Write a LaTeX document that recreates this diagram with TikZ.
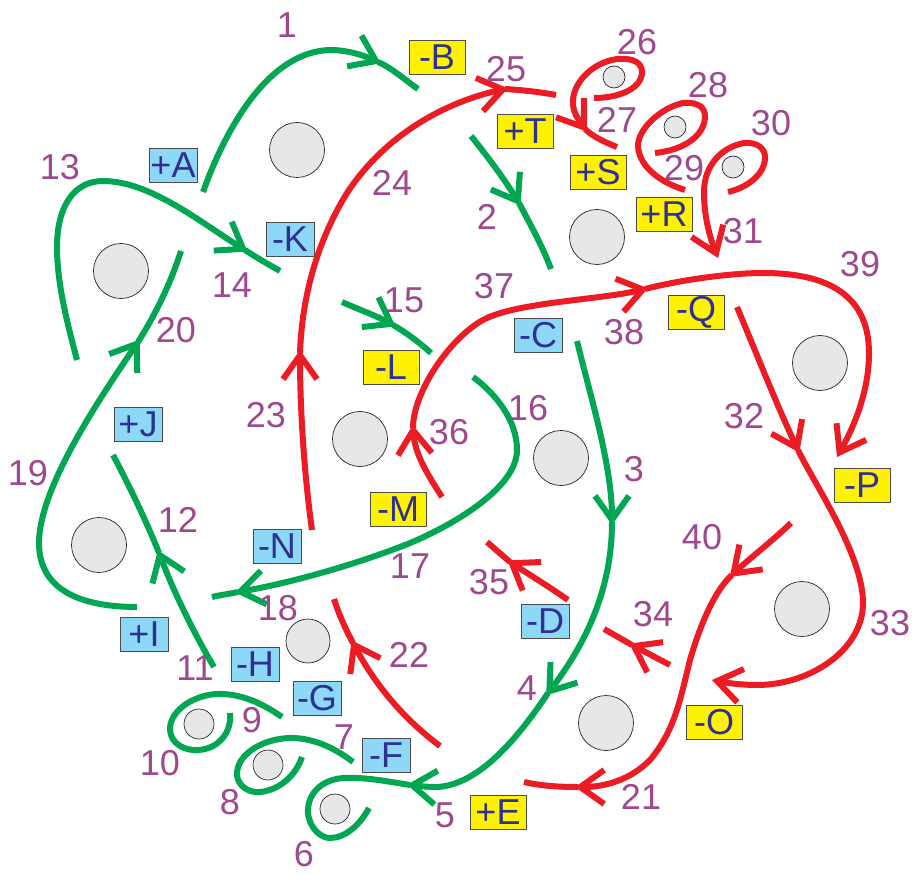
\documentclass[tikz,border=0pt]{standalone}
\usepackage{fontspec}
\setmainfont{Liberation Sans}
\usetikzlibrary{arrows.meta}
\definecolor{KnotGreen}{RGB}{0, 166, 81}
\definecolor{KnotRed}{RGB}{237, 28, 36}
\definecolor{NumPurple}{RGB}{158, 72, 142}
\definecolor{BoxInk}{RGB}{46, 49, 146}
\definecolor{BoxYellow}{RGB}{255, 242, 0}
\definecolor{BoxBlue}{RGB}{141, 215, 247}
\definecolor{HoleGray}{RGB}{230, 231, 232}

\begin{document}
\begin{tikzpicture}[
    x=1pt, y=-1pt,
    ybox/.style={draw=black!70, fill=BoxYellow, text=BoxInk, line width=0.8pt, minimum width=56pt, minimum height=34pt, inner sep=0pt, font=\fontsize{36}{36}\selectfont},
    bbox/.style={draw=black!70, fill=BoxBlue, text=BoxInk, line width=0.8pt, minimum width=48pt, minimum height=34pt, inner sep=0pt, font=\fontsize{36}{36}\selectfont},
    num/.style={text=NumPurple, inner sep=0pt, font=\fontsize{36}{36}\selectfont},
    hole/.style={draw=black!85, fill=HoleGray, circle, inner sep=0pt, line width=0.7pt},
    bighole/.style={hole, minimum size=55pt},
    midhole/.style={hole, minimum size=44pt},
    smallhole/.style={hole, minimum size=30pt},
    tinyhole/.style={hole, minimum size=22pt},
    greenline/.style={draw=KnotGreen, line width=6pt},
    redline/.style={draw=KnotRed, line width=6pt},
    endbarb/.style={-{Straight Barb[length=24pt, width=34pt, line width=6pt]}},
    barb/.style={endbarb, shorten >=-3pt}
  ]
    \useasboundingbox (0,0) rectangle (912,874);

    % holes
    \node[bighole] (h1) at (297,150) {};
    \node[bighole] (h2) at (121,271) {};
    \node[bighole] (h3) at (597,237) {};
    \node[bighole] (h4) at (820,363) {};
    \node[bighole] (h5) at (360,439) {};
    \node[bighole] (h6) at (561,458) {};
    \node[bighole] (h7) at (99,545) {};
    \node[bighole] (h8) at (802,609) {};
    \node[bighole] (h9) at (606,723) {};
    \node[midhole] (h10) at (308,641) {};
    \node[smallhole] (h11) at (199,724) {};
    \node[smallhole] (h12) at (268,765) {};
    \node[smallhole] (h13) at (335,809) {};
    \node[tinyhole] (h14) at (614,77) {};
    \node[tinyhole] (h15) at (675,127) {};
    \node[tinyhole] (h16) at (733,167) {};

    % arrow points
    \coordinate (t1) at (378,62);
    \coordinate (t2) at (519,203);
    \coordinate (t3) at (612,522);
    \coordinate (t4) at (548,693);
    \coordinate (t5) at (410,785);
    \coordinate (t12) at (159,553);
    \coordinate (t14) at (245,250);
    \coordinate (t15) at (393,325);
    \coordinate (t17) at (238,592);
    \coordinate (t20) at (138,342);
    \coordinate (t21) at (578,787);
    \coordinate (t22) at (353,643);
    \coordinate (t23) at (300,353);
    \coordinate (t25) at (505,89);
    \coordinate (t27) at (585,129);
    \coordinate (t32) at (798,450);
    \coordinate (t34) at (632,645);
    \coordinate (t35) at (510,562);
    \coordinate (t36) at (413,428);
    \coordinate (t38) at (645,289);
    \coordinate (t40) at (732,575);

    % green strands
    \draw[greenline, barb] (203,192) .. controls (218,150) and (260,52) .. (330,50) .. controls (347,50) and (363,55) .. (t1);
    \draw[greenline] (t1) .. controls (392,68) and (405,80) .. (418,89);
    \draw[greenline, barb] (471,136) .. controls (488,157) and (505,180) .. (t2);
    \draw[greenline] (t2) .. controls (530,224) and (542,245) .. (551,269);
    \draw[greenline, barb] (577,341) .. controls (590,395) and (612,465) .. (t3);
    \draw[greenline, barb] (t3) .. controls (612,590) and (585,645) .. (t4);
    \draw[greenline, barb] (t4) .. controls (520,735) and (480,785) .. (437,787) .. controls (427,787) and (420,786) .. (t5);
    \draw[greenline] (t5) .. controls (385,781) and (365,777) .. (343,778) .. controls (320,780) and (307,795) .. (308,813) .. controls (310,830) and (322,838) .. (330,838) .. controls (345,838) and (360,825) .. (369,808);
    \draw[greenline] (353,762) .. controls (335,748) and (312,737) .. (288,738) .. controls (258,740) and (236,757) .. (237,775) .. controls (238,787) and (250,793) .. (260,792) .. controls (280,790) and (296,775) .. (302,757);
    \draw[greenline] (282,717) .. controls (262,703) and (240,693) .. (216,694) .. controls (190,696) and (169,713) .. (170,730) .. controls (171,744) and (185,751) .. (198,750) .. controls (218,749) and (232,733) .. (230,713);
    \draw[greenline, barb] (214,667) .. controls (195,635) and (175,595) .. (t12);
    \draw[greenline] (t12) .. controls (148,525) and (130,487) .. (113,455);
    \draw[greenline, barb] (137,607) .. controls (90,607) and (39,595) .. (39,543) .. controls (39,490) and (95,405) .. (t20);
    \draw[greenline] (t20) .. controls (155,315) and (170,285) .. (181,251);
    \draw[greenline, barb] (77,360) .. controls (65,315) and (57,280) .. (57,247) .. controls (57,205) and (75,181) .. (103,181) .. controls (150,181) and (200,222) .. (t14);
    \draw[greenline] (t14) .. controls (257,258) and (268,264) .. (280,271);
    \draw[greenline, barb] (342,302) .. controls (360,310) and (377,316) .. (t15);
    \draw[greenline] (t15) .. controls (407,333) and (420,343) .. (431,353);
    \draw[greenline, barb] (473,377) .. controls (495,393) and (517,420) .. (517,450) .. controls (517,490) and (445,530) .. (400,547) .. controls (350,566) and (290,583) .. (t17);
    \draw[greenline] (t17) .. controls (229,594) and (220,595) .. (212,597);

    % red strands
    \draw[redline, barb] (440,746) .. controls (408,722) and (378,690) .. (t22);
    \draw[redline] (t22) .. controls (346,630) and (339,615) .. (334,599);
    \draw[redline, barb] (312,530) .. controls (305,480) and (300,415) .. (t23);
    \draw[redline, barb] (t23) .. controls (302,295) and (318,240) .. (347,193) .. controls (385,135) and (445,102) .. (t25);
    \draw[redline] (t25) .. controls (522,90) and (540,92) .. (556,95);
    \draw[redline, barb] (594,98) .. controls (620,98) and (642,88) .. (642,72) .. controls (642,60) and (628,58) .. (617,59) .. controls (590,63) and (572,85) .. (573,103) .. controls (573,112) and (578,119) .. (t27);
    \draw[redline] (t27) .. controls (592,136) and (604,142) .. (617,147);
    \draw[redline] (655,153) .. controls (685,150) and (705,135) .. (705,116) .. controls (705,104) and (692,102) .. (683,103) .. controls (660,108) and (637,130) .. (638,147) .. controls (640,168) and (662,183) .. (685,190);
    \draw[redline, endbarb] (728,192) .. controls (750,187) and (766,172) .. (765,156) .. controls (764,145) and (752,142) .. (744,143) .. controls (722,147) and (704,165) .. (704,192) .. controls (704,215) and (709,235) .. (718,258);
    \draw[redline, barb] (442,497) .. controls (428,475) and (415,455) .. (t36);
    \draw[redline, barb] (t36) .. controls (413,392) and (450,338) .. (483,320) .. controls (516,302) and (600,300) .. (t38);
    \draw[redline, endbarb] (t38) .. controls (680,280) and (730,273) .. (763,273) .. controls (820,273) and (869,290) .. (869,353) .. controls (869,390) and (855,425) .. (837,457);
    \draw[redline, barb] (737,307) .. controls (755,350) and (778,408) .. (t32);
    \draw[redline, endbarb] (t32) .. controls (815,485) and (863,555) .. (863,603) .. controls (863,650) and (810,685) .. (757,685) .. controls (742,685) and (727,683) .. (712,680);
    \draw[redline, barb] (670,665) -- (t34);
    \draw[redline] (t34) -- (604,629);
    \draw[redline, barb] (568,600) .. controls (548,586) and (530,575) .. (t35);
    \draw[redline] (t35) .. controls (503,556) and (495,549) .. (487,542);
    \draw[redline, barb] (791,523) .. controls (770,543) and (750,558) .. (t40);
    \draw[redline, barb] (t40) .. controls (715,590) and (700,625) .. (690,660) .. controls (680,700) and (675,730) .. (650,760) .. controls (630,780) and (605,787) .. (t21);
    \draw[redline] (t21) .. controls (560,787) and (542,786) .. (524,782);

    % boxes
    \node[ybox] (bB) at (437,57) {-B};
    \node[ybox] (bT) at (525,131) {+T};
    \node[ybox] (bS) at (598,172) {+S};
    \node[ybox] (bR) at (664,214) {+R};
    \node[ybox] (bQ) at (696,312) {-Q};
    \node[ybox] (bP) at (862,485) {-P};
    \node[ybox] (bO) at (714,722) {-O};
    \node[ybox] (bE) at (498,812) {+E};
    \node[ybox] (bL) at (391,367) {-L};
    \node[ybox] (bM) at (398,509) {-M};
    \node[bbox] (bA) at (173,165) {+A};
    \node[bbox] (bK) at (290,239) {-K};
    \node[bbox] (bC) at (538,335) {-C};
    \node[bbox] (bD) at (545,621) {-D};
    \node[bbox] (bF) at (386,755) {-F};
    \node[bbox] (bG) at (317,698) {-G};
    \node[bbox] (bH) at (255,664) {-H};
    \node[bbox] (bI) at (144,634) {+I};
    \node[bbox] (bJ) at (138,424) {+J};
    \node[bbox] (bN) at (277,546) {-N};

    % numbers
    \node[num] (n1) at (287,25) {1};
    \node[num] (n2) at (487,217) {2};
    \node[num] (n3) at (634,469) {3};
    \node[num] (n4) at (527,688) {4};
    \node[num] (n5) at (445,815) {5};
    \node[num] (n6) at (304,854) {6};
    \node[num] (n7) at (344,737) {7};
    \node[num] (n8) at (230,802) {8};
    \node[num] (n9) at (252,720) {9};
    \node[num] (n10) at (160,763) {10};
    \node[num] (n11) at (195,668) {11};
    \node[num] (n12) at (178,520) {12};
    \node[num] (n13) at (60,167) {13};
    \node[num] (n14) at (232,285) {14};
    \node[num] (n15) at (404,300) {15};
    \node[num] (n16) at (528,408) {16};
    \node[num] (n17) at (410,566) {17};
    \node[num] (n18) at (278,608) {18};
    \node[num] (n19) at (28,473) {19};
    \node[num] (n20) at (176,330) {20};
    \node[num] (n21) at (641,797) {21};
    \node[num] (n22) at (409,655) {22};
    \node[num] (n23) at (266,415) {23};
    \node[num] (n24) at (392,183) {24};
    \node[num] (n25) at (506,69) {25};
    \node[num] (n26) at (637,42) {26};
    \node[num] (n27) at (617,120) {27};
    \node[num] (n28) at (708,85) {28};
    \node[num] (n29) at (684,168) {29};
    \node[num] (n30) at (771,123) {30};
    \node[num] (n31) at (743,231) {31};
    \node[num] (n32) at (744,416) {32};
    \node[num] (n33) at (890,623) {33};
    \node[num] (n34) at (653,614) {34};
    \node[num] (n35) at (489,582) {35};
    \node[num] (n36) at (449,432) {36};
    \node[num] (n37) at (494,286) {37};
    \node[num] (n38) at (624,332) {38};
    \node[num] (n39) at (860,264) {39};
    \node[num] (n40) at (702,537) {40};
  \end{tikzpicture}
\end{document}
